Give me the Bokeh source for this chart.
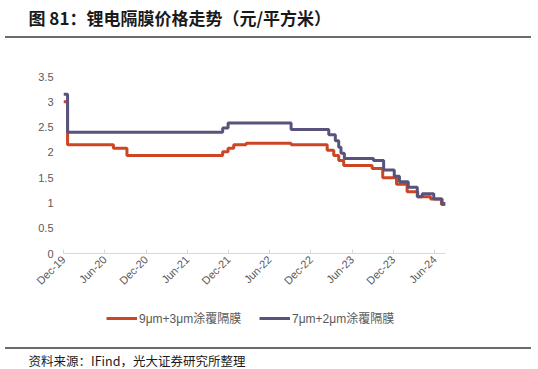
import pandas as pd
from math import pi
from bokeh.plotting import figure
from bokeh.layouts import column
from bokeh.models import (Range1d, FixedTicker, DatetimeTickFormatter, CustomJSTickFormatter,
                          Title, Legend, LegendItem, Div)
from bokeh.embed import file_html
from bokeh.resources import INLINE

# ---------------- data ----------------
title_text = "图 81：锂电隔膜价格走势（元/平方米）"
source_text = "资料来源：IFind，光大证券研究所整理"
series_a_name = "9μm+3μm涂覆隔膜"
series_b_name = "7μm+2μm涂覆隔膜"

a_dates = ["2019-12-01", "2019-12-19", "2020-07-09", "2020-09-07", "2021-11-05", "2021-11-29",
           "2021-12-24", "2022-02-17", "2022-09-04", "2023-02-11", "2023-03-12", "2023-04-03",
           "2023-04-25", "2023-08-29", "2023-10-15", "2023-12-15", "2024-01-31", "2024-03-18",
           "2024-05-14", "2024-07-01", "2024-07-19"]
a_values = [3.0, 2.15, 2.08, 1.94, 2.01, 2.08,
            2.15, 2.18, 2.15, 2.04, 1.94, 1.84,
            1.74, 1.68, 1.50, 1.37, 1.22, 1.12,
            1.08, 0.97, 0.97]

b_dates = ["2019-12-01", "2019-12-19", "2021-11-05", "2021-11-29", "2022-09-04", "2023-02-18",
           "2023-03-19", "2023-04-03", "2023-04-13", "2023-04-28", "2023-09-04", "2023-10-19",
           "2023-12-05", "2023-12-28", "2024-02-05", "2024-03-16", "2024-04-07", "2024-05-28",
           "2024-07-04", "2024-07-19"]
b_values = [3.15, 2.40, 2.48, 2.58, 2.45, 2.35,
            2.23, 2.10, 1.98, 1.88, 1.84, 1.65,
            1.53, 1.42, 1.31, 1.12, 1.18, 1.08,
            0.99, 0.99]

x_tick_dates = ["2019-12-01", "2020-06-01", "2020-12-01", "2021-06-01", "2021-12-01",
                "2022-06-01", "2022-12-01", "2023-06-01", "2023-12-01", "2024-06-01"]
x_start, x_end = "2019-12-01", "2024-07-19"
y_ticks = [0, 0.5, 1, 1.5, 2, 2.5, 3, 3.5]

# ---------------- styling ----------------
RED = "#CD4525"
BLUE = "#57537D"
RULE = "#6a6a6a"
GRAY_TXT = "#595959"
LATIN = "Liberation Sans, Noto Sans CJK SC"
CJK = "Noto Sans CJK SC"
W = 538
BL, BR = 63, 93   # frame borders shared by every figure


def strip(h, top_border=0, x_range=None, x_type="linear"):
    f = figure(width=W, height=h, output_backend="svg", toolbar_location=None,
               x_axis_type=x_type,
               x_range=x_range if x_range is not None else Range1d(0, 1),
               y_range=Range1d(0, 1),
               min_border_left=BL, min_border_right=BR,
               min_border_top=top_border, min_border_bottom=0,
               x_axis_location=None, y_axis_location=None)
    f.outline_line_color = None
    f.grid.grid_line_color = None
    return f


def text_strip(h, text, size, bold, standoff, top_border):
    f = strip(h, top_border)
    f.add_layout(Title(text=text, align="left", offset=-35, standoff=standoff,
                       text_font=CJK, text_font_size=size,
                       text_font_style="bold" if bold else "normal",
                       text_color="#1a1a1a"), "above")
    return f


def rule():
    return Div(text="", width=526, height=2, margin=(0, 0, 0, 5),
               styles={"background-color": RULE})


top = text_strip(36, title_text, "17px", True, 5, 23)
bot = text_strip(20, source_text, "12.5px", False, 0, 11)

# ---------- main chart ----------
p = figure(width=W, height=262, output_backend="svg", toolbar_location=None,
           x_axis_type="datetime",
           x_range=Range1d(pd.Timestamp(x_start), pd.Timestamp(x_end)),
           y_range=Range1d(0, 3.5),
           min_border_left=BL, min_border_right=BR, min_border_top=38, min_border_bottom=47)
p.outline_line_color = None
p.grid.grid_line_color = None

ra = p.step(pd.to_datetime(a_dates), a_values, mode="after", line_color=RED, line_width=3)
rb = p.step(pd.to_datetime(b_dates), b_values, mode="after", line_color=BLUE, line_width=3)

xa = p.xaxis[0]
xa.ticker = FixedTicker(ticks=[pd.Timestamp(d).value / 1e6 for d in x_tick_dates])
xa.formatter = DatetimeTickFormatter(days="%b-%y", months="%b-%y", years="%b-%y")
xa.major_label_orientation = pi / 4
xa.axis_line_color = "#D9D9D9"
xa.major_tick_line_color = "#D9D9D9"
xa.major_tick_in = 4
xa.major_tick_out = 0
xa.minor_tick_line_color = None
xa.major_label_text_font = LATIN
xa.major_label_text_font_size = "11px"
xa.major_label_text_color = GRAY_TXT
xa.major_label_standoff = 4

ya = p.yaxis[0]
ya.ticker = FixedTicker(ticks=y_ticks)
ya.formatter = CustomJSTickFormatter(code="return tick.toString();")
ya.axis_line_color = None
ya.major_tick_line_color = None
ya.minor_tick_line_color = None
ya.major_tick_out = 0
ya.major_tick_in = 0
ya.major_label_standoff = 10
ya.major_label_text_font = LATIN
ya.major_label_text_font_size = "11px"
ya.major_label_text_color = GRAY_TXT

# ---------- legend strip (series keys, renderers hidden) ----------
lg = strip(47, 0, x_range=Range1d(pd.Timestamp(x_start), pd.Timestamp(x_end)), x_type="datetime")
la = lg.step(pd.to_datetime(a_dates), a_values, mode="after", line_color=RED, line_width=3,
             visible=False)
lb = lg.step(pd.to_datetime(b_dates), b_values, mode="after", line_color=BLUE, line_width=3,
             visible=False)
leg = Legend(items=[LegendItem(label=series_a_name, renderers=[la]),
                    LegendItem(label=series_b_name, renderers=[lb])],
             location=(43, 21), orientation="horizontal", padding=0, margin=0, spacing=0,
             glyph_width=31, glyph_height=14, label_height=14, label_width=120,
             label_standoff=2, border_line_color=None, background_fill_alpha=0,
             label_text_font=LATIN, label_text_font_size="12px",
             label_text_color=GRAY_TXT, click_policy="none")
lg.add_layout(leg)

layout = column(top, rule(), p, lg, rule(), bot, spacing=0)
open("out.html", "w").write(file_html(layout, INLINE))
